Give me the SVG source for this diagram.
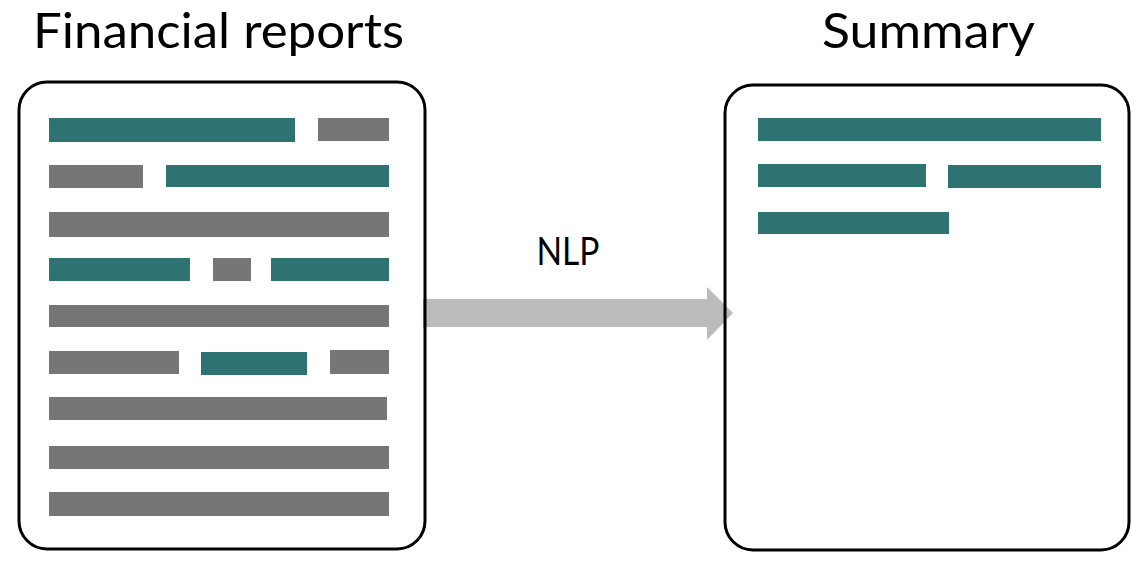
<svg xmlns="http://www.w3.org/2000/svg" width="1148" height="578" viewBox="0 0 1148 578">
<style>
.box{fill:none;stroke:#000;stroke-width:3}
.t{fill:#2e7272}
.g{fill:#767676}
.title{font-family:Lato,"Open Sans","Liberation Sans",sans-serif;font-size:48px;fill:#000}
.lbl{font-family:Lato,"Open Sans","Liberation Sans",sans-serif;font-size:38px;fill:#000}
</style>
<rect width="1148" height="578" fill="#fff"/>
<g id="connectors">
<polygon id="arrow-nlp" points="423,299 707,299 707,287 733,313 707,340 707,327 423,327" fill="#bbbbbb"/>
<text class="lbl" x="568" y="265" text-anchor="middle" textLength="63" lengthAdjust="spacingAndGlyphs">NLP</text>
</g>
<g id="financial-reports">
<text class="title" x="33" y="48" textLength="371" lengthAdjust="spacingAndGlyphs">Financial reports</text>
<rect class="box" x="19" y="82" width="406" height="467" rx="28"/>
<rect class="t" x="49" y="118" width="246" height="24"/>
<rect class="g" x="318" y="118" width="71" height="23"/>
<rect class="g" x="49" y="165" width="94" height="23"/>
<rect class="t" x="166" y="165" width="223" height="22"/>
<rect class="g" x="49" y="212" width="340" height="25"/>
<rect class="t" x="49" y="258" width="141" height="23"/>
<rect class="g" x="213" y="258" width="38" height="23"/>
<rect class="t" x="271" y="258" width="118" height="23"/>
<rect class="g" x="49" y="305" width="340" height="22"/>
<rect class="g" x="49" y="351" width="130" height="23"/>
<rect class="t" x="201" y="352" width="106" height="23"/>
<rect class="g" x="330" y="350" width="59" height="24"/>
<rect class="g" x="49" y="397" width="338" height="23"/>
<rect class="g" x="49" y="446" width="340" height="23"/>
<rect class="g" x="49" y="492" width="340" height="24"/>
</g>
<g id="summary">
<text class="title" x="822" y="48" textLength="213" lengthAdjust="spacingAndGlyphs">Summary</text>
<rect class="box" x="725" y="85" width="404" height="465" rx="28"/>
<rect class="t" x="758" y="118" width="343" height="23"/>
<rect class="t" x="758" y="164" width="168" height="23"/>
<rect class="t" x="948" y="165" width="153" height="23"/>
<rect class="t" x="758" y="212" width="191" height="22"/>
</g>
</svg>
